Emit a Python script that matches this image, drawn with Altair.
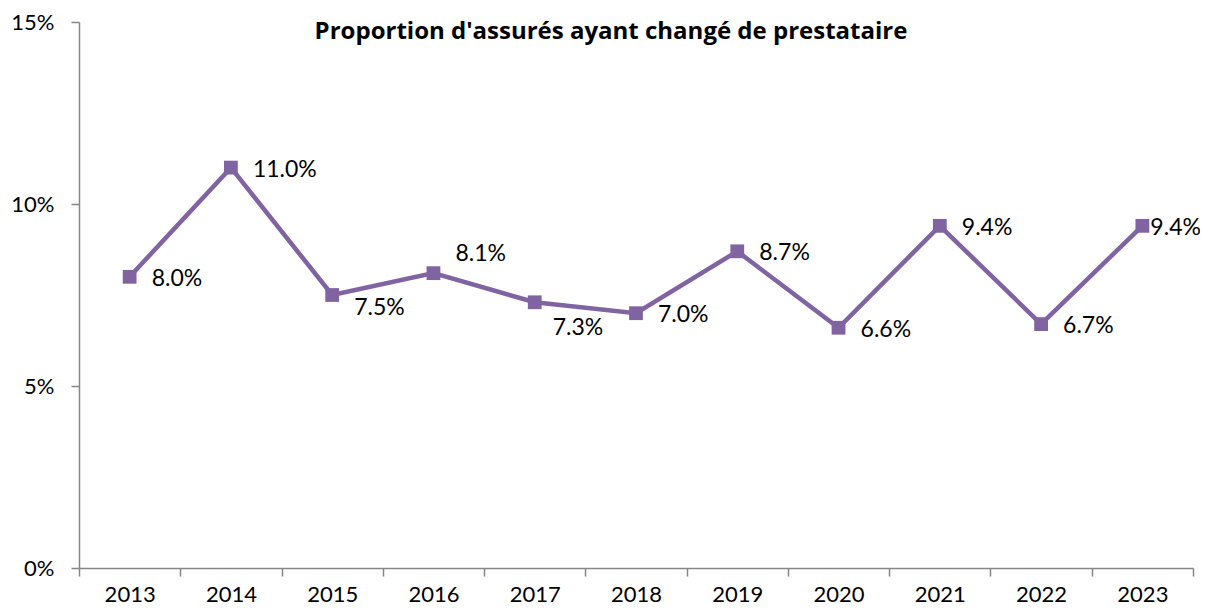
import altair as alt
import pandas as pd

years = ["2013", "2014", "2015", "2016", "2017", "2018", "2019", "2020", "2021", "2022", "2023"]
values = [0.080, 0.110, 0.075, 0.081, 0.073, 0.070, 0.087, 0.066, 0.094, 0.067, 0.094]
labels = ["8.0%", "11.0%", "7.5%", "8.1%", "7.3%", "7.0%", "8.7%", "6.6%", "9.4%", "6.7%", "9.4%"]

right_years = ["2013", "2014", "2018", "2019", "2020", "2021", "2022"]
below_years = ["2015"]
above_years = ["2016"]
lowlow_years = ["2017"]
last_years = ["2023"]

df = pd.DataFrame({"year": years, "value": values, "label": labels})

FONT = "Lato"
PURPLE = "#8064A2"
GRAY = "#868686"
FS = 23

x = alt.X("year:O", scale=alt.Scale(type="band", paddingInner=0, paddingOuter=0),
          axis=alt.Axis(title=None, labelAngle=0, tickBand="extent", tickSize=8,
                        labelPadding=8, labelFontSize=22, labelFont=FONT,
                        labelColor="black", domainColor=GRAY, tickColor=GRAY,
                        domainWidth=1.5, tickWidth=1.5))
y = alt.Y("value:Q", scale=alt.Scale(domain=[0, 0.15]),
          axis=alt.Axis(title=None, values=[0, 0.05, 0.10, 0.15], format=".0%",
                        grid=False, tickSize=8, labelPadding=17, labelFontSize=22,
                        labelFont=FONT, labelColor="black", domainColor=GRAY,
                        tickColor=GRAY, domainWidth=1.5, tickWidth=1.5))

base = alt.Chart(df)
line = base.mark_line(color=PURPLE, strokeWidth=4.5).encode(x=x, y=y)
pts = base.mark_point(shape="square", filled=True, size=190, color=PURPLE, opacity=1).encode(x=x, y=y)

def lab(sel, dx, dy):
    return base.transform_filter(alt.FieldOneOfPredicate(field="year", oneOf=sel)).mark_text(
        align="left", baseline="middle", dx=dx, dy=dy, fontSize=FS, font=FONT, color="black"
    ).encode(x=x, y=y, text="label:N")

labs = [lab(right_years, 22, 2), lab(below_years, 22, 13), lab(above_years, 22, -19),
        lab(lowlow_years, 18, 26), lab(last_years, 8, 2)]

title = alt.Chart(pd.DataFrame({"t": ["Proportion d'assurés ayant changé de prestataire"]})).mark_text(
    fontSize=24, fontWeight="bold", font="Open Sans", color="black", align="center", baseline="middle"
).encode(x=alt.value(532), y=alt.value(10), text="t:N")

chart = alt.layer(line, pts, *labs, title).properties(
    width=1114, height=546,
    autosize=alt.AutoSizeParams(type="none"),
    padding={"left": 71, "top": 14, "right": 7, "bottom": 40},
).configure_view(stroke=None)

chart.save("out.html", embed_options={"renderer": "svg", "actions": False})
